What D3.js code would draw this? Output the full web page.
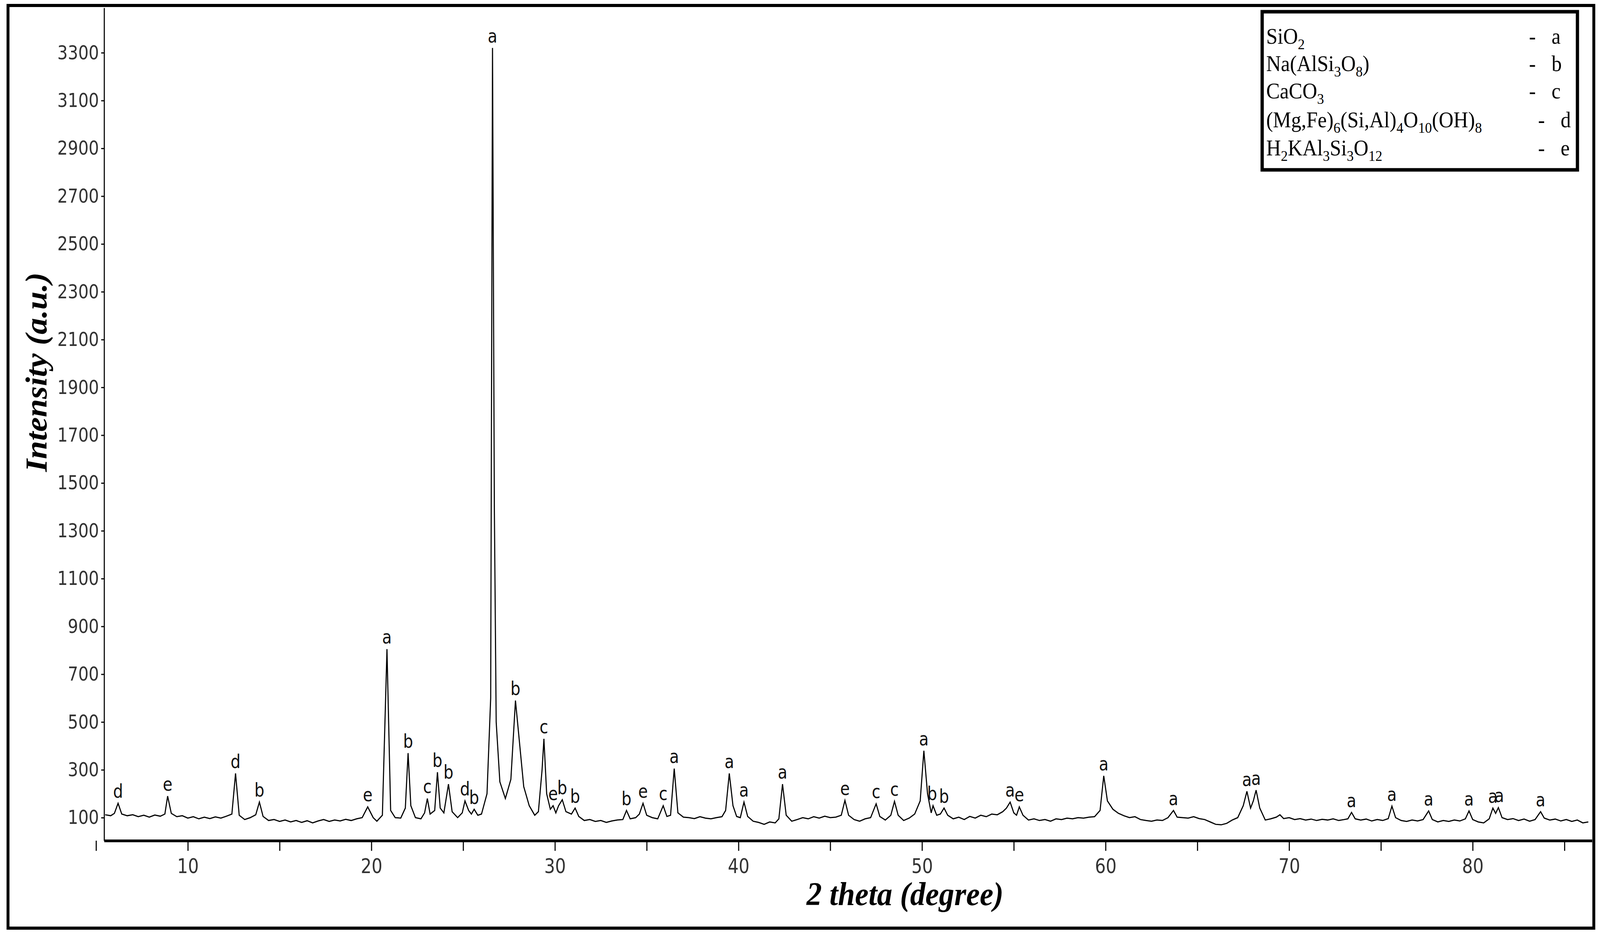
<!DOCTYPE html>
<html>
<head>
<meta charset="utf-8">
<script src="https://cdn.jsdelivr.net/npm/d3@7"></script>
<style>
html, body { margin: 0; padding: 0; background: #fff; overflow: hidden; }
svg { display: block; width: 100vw; height: 100vh; }
svg text { font-family: "Liberation Sans Narrow", "DejaVu Sans Condensed", sans-serif; }
</style>
</head>
<body>
<div id="chart"></div>
<script>
var twoTheta = [5.5,5.8,6.0,6.2,6.4,6.7,7.0,7.3,7.6,7.9,8.2,8.5,8.75,8.9,9.1,9.4,9.7,10.0,10.3,10.6,10.9,11.2,11.5,11.8,12.1,12.4,12.6,12.8,13.1,13.4,13.7,13.9,14.1,14.4,14.7,15.0,15.3,15.6,15.9,16.2,16.5,16.8,17.1,17.4,17.7,18.0,18.3,18.6,18.9,19.2,19.5,19.8,20.1,20.3,20.6,20.85,21.05,21.3,21.6,21.85,22.0,22.15,22.4,22.7,22.9,23.05,23.2,23.45,23.6,23.75,23.95,24.2,24.4,24.7,24.95,25.1,25.3,25.45,25.6,25.8,26.0,26.3,26.5,26.6,26.7,26.8,27.0,27.3,27.6,27.85,28.0,28.3,28.6,28.9,29.1,29.3,29.4,29.55,29.75,29.9,30.05,30.2,30.4,30.6,30.9,31.1,31.3,31.6,31.9,32.2,32.5,32.8,33.1,33.4,33.7,33.9,34.1,34.4,34.6,34.8,35.0,35.3,35.6,35.9,36.1,36.3,36.5,36.7,37.0,37.3,37.6,37.9,38.2,38.5,38.8,39.1,39.3,39.5,39.7,39.9,40.1,40.3,40.5,40.8,41.1,41.4,41.7,42.0,42.2,42.4,42.6,42.9,43.2,43.5,43.8,44.1,44.4,44.7,45.0,45.3,45.6,45.8,46.0,46.3,46.6,46.9,47.2,47.5,47.7,48.0,48.3,48.5,48.7,49.0,49.3,49.6,49.9,50.1,50.3,50.5,50.6,50.8,51.0,51.2,51.4,51.7,52.0,52.3,52.6,52.9,53.2,53.5,53.8,54.1,54.4,54.6,54.8,55.0,55.15,55.3,55.5,55.8,56.1,56.4,56.7,57.0,57.3,57.6,57.9,58.2,58.5,58.8,59.1,59.4,59.7,59.9,60.1,60.4,60.7,61.0,61.3,61.6,61.9,62.2,62.5,62.8,63.1,63.4,63.7,63.9,64.2,64.5,64.8,65.1,65.4,65.7,66.0,66.3,66.6,66.9,67.2,67.5,67.7,67.9,68.05,68.2,68.4,68.7,69.0,69.3,69.5,69.7,70.0,70.3,70.6,70.9,71.2,71.5,71.8,72.1,72.4,72.7,73.0,73.2,73.4,73.6,73.9,74.2,74.5,74.8,75.1,75.4,75.6,75.8,76.1,76.4,76.7,77.0,77.3,77.6,77.8,78.1,78.4,78.7,79.0,79.3,79.6,79.8,80.0,80.3,80.6,80.9,81.1,81.25,81.4,81.6,81.9,82.2,82.5,82.8,83.1,83.4,83.7,83.9,84.2,84.5,84.8,85.1,85.4,85.7,86.0,86.3];
var intensity = [112,108,118,160,115,108,112,104,110,102,111,106,115,190,118,104,108,98,104,95,102,96,103,98,106,115,285,110,92,100,112,165,105,88,92,84,90,82,88,80,87,78,86,92,84,90,86,93,88,95,100,145,100,85,110,805,130,100,98,140,370,150,100,95,120,180,115,130,290,140,120,240,125,100,120,170,130,115,135,110,115,200,600,3320,1400,500,250,180,260,590,470,230,150,110,125,300,430,200,135,150,120,150,175,125,115,140,105,88,92,84,88,80,86,90,92,130,95,100,115,160,110,100,95,150,105,110,305,120,102,100,96,104,98,95,100,104,130,285,150,105,100,165,105,85,80,72,82,78,95,240,110,85,92,100,95,104,98,106,100,102,110,172,110,92,85,95,100,158,105,90,110,168,110,88,98,115,170,380,200,120,150,110,115,140,110,95,102,92,105,98,110,104,115,112,125,140,165,120,110,145,110,90,95,88,92,85,95,92,98,95,100,98,102,104,130,275,170,135,118,108,100,104,92,88,85,90,88,100,130,102,100,98,104,96,92,82,72,70,76,90,100,150,210,140,170,215,140,90,95,102,112,96,100,92,96,90,94,88,93,90,95,88,92,95,122,95,90,94,86,92,88,96,148,100,88,84,90,86,92,128,92,82,88,84,90,86,95,128,92,82,78,95,140,118,142,100,92,96,88,94,85,92,125,98,90,94,86,92,84,90,78,82];

// peak labels: position, peak height, phase letter
var peakPos = [6.2,8.9,12.6,13.9,19.8,20.85,22.0,23.05,23.6,24.2,25.1,25.6,26.6,27.85,29.4,29.9,30.4,31.1,33.9,34.8,35.9,36.5,39.5,40.3,42.4,45.8,47.5,48.5,50.1,50.55,51.2,54.8,55.3,59.9,63.7,67.7,68.2,73.4,75.6,77.6,79.8,81.1,81.45,83.7];
var peakTop = [160,190,285,165,145,805,370,180,290,240,170,135,3320,590,430,150,175,140,130,160,150,305,285,165,240,172,158,168,380,150,140,165,145,275,130,210,215,122,148,128,128,140,142,125];
var peakLetter = ["d","e","d","b","e","a","b","c","b","b","d","b","a","b","c","e","b","b","b","e","c","a","a","a","a","e","c","c","a","b","b","a","e","a","a","a","a","a","a","a","a","a","a","a"];

var yTicks = d3.range(100, 3301, 200);

var legendRows = [
  [["SiO", 0], ["2", 1]],
  [["Na(AlSi", 0], ["3", 1], ["O", 0], ["8", 1], [")", 0]],
  [["CaCO", 0], ["3", 1]],
  [["(Mg,Fe)", 0], ["6", 1], ["(Si,Al)", 0], ["4", 1], ["O", 0], ["10", 1], ["(OH)", 0], ["8", 1]],
  [["H", 0], ["2", 1], ["KAl", 0], ["3", 1], ["Si", 0], ["3", 1], ["O", 0], ["12", 1]]
];
var legendKeys = ["a", "b", "c", "d", "e"];

function init() {
  var w = 4395, h = 2392;
  var left = 286, right = 4373, top = 20, bottom = 2153;

  var svg = d3.select("#chart").append("svg")
    .attr("viewBox", "0 0 " + w + " " + h)
    .attr("preserveAspectRatio", "none");

  var xScale = d3.scaleLinear().domain([5.44, 86.5]).range([left, right]);
  var yScale = d3.scaleLinear().domain([3.6, 3488]).range([bottom, top]);

  // outer frame
  svg.append("rect").attr("x", 22).attr("y", 14).attr("width", 4356).attr("height", 2363)
    .attr("fill", "none").attr("stroke", "#000").attr("stroke-width", 8);

  // axes
  var xAxis = d3.axisBottom(xScale).tickValues(d3.range(5, 86, 5))
    .tickFormat(function(d){ return d % 10 === 0 ? d : ""; })
    .tickSize(26).tickSizeOuter(0).tickPadding(20);
  var gx = svg.append("g").attr("transform", "translate(0," + bottom + ")").call(xAxis);
  gx.select(".domain").attr("stroke-width", 7);
  gx.selectAll("line").attr("stroke-width", 3);
  gx.selectAll("text").attr("font-size", 52).attr("fill", "#333")
    .attr("font-family", "Liberation Sans Narrow, DejaVu Sans Condensed, sans-serif");

  var yAxis = d3.axisLeft(yScale).tickValues(yTicks).tickFormat(d3.format("d"))
    .tickSize(8).tickSizeOuter(0).tickPadding(6);
  var gy = svg.append("g").attr("transform", "translate(" + left + ",0)").call(yAxis);
  gy.select(".domain").attr("stroke-width", 3);
  gy.selectAll("line").attr("stroke-width", 3);
  gy.selectAll("text").attr("font-size", 50).attr("fill", "#333")
    .attr("font-family", "Liberation Sans Narrow, DejaVu Sans Condensed, sans-serif");

  // pattern
  var line = d3.line()
    .x(function(d, i){ return xScale(twoTheta[i]); })
    .y(function(d){ return yScale(d); });
  svg.append("path").datum(intensity).attr("d", line)
    .attr("fill", "none").attr("stroke", "#000").attr("stroke-width", 3);

  // peak letters
  svg.append("g").selectAll("text").data(peakPos).join("text")
    .attr("x", function(d){ return xScale(d); })
    .attr("y", function(d, i){ return yScale(peakTop[i]) - 14; })
    .attr("text-anchor", "middle").attr("font-size", 48).attr("fill", "#111")
    .text(function(d, i){ return peakLetter[i]; });

  // axis titles
  svg.append("text").attr("x", 2486).attr("y", 2318).attr("text-anchor", "middle")
    .style("font-family", "Liberation Serif, serif").style("font-weight", "bold").style("font-style", "italic")
    .attr("font-size", 84).text("2 theta (degree)");
  svg.append("text").attr("transform", "translate(128,953) rotate(-90)").attr("text-anchor", "middle")
    .style("font-family", "Liberation Serif, serif").style("font-weight", "bold").style("font-style", "italic")
    .attr("font-size", 84).text("Intensity (a.u.)");

  // legend
  var lg = svg.append("g");
  lg.append("rect").attr("x", 3467).attr("y", 30).attr("width", 866).attr("height", 405)
    .attr("fill", "#fff").attr("stroke", "#000").attr("stroke-width", 9);
  var rowY = [112, 182, 252, 326, 398];
  legendRows.forEach(function(parts, i) {
    var t = lg.append("text").attr("x", 3478).attr("y", rowY[i])
      .style("font-family", "Liberation Serif, serif").attr("font-size", 56);
    parts.forEach(function(p) {
      t.append("tspan").attr("font-size", p[1] ? 38 : 56)
        .attr("baseline-shift", p[1] ? "-14" : null).text(p[0]);
    });
    var dx = i >= 3 ? 25 : 0;
    lg.append("text").attr("x", 4200 + dx).attr("y", rowY[i])
      .style("font-family", "Liberation Serif, serif").attr("font-size", 56).text("-");
    lg.append("text").attr("x", 4262 + dx).attr("y", rowY[i])
      .style("font-family", "Liberation Serif, serif").attr("font-size", 56).text(legendKeys[i]);
  });
}
window.onload = init;
</script>
</body>
</html>
